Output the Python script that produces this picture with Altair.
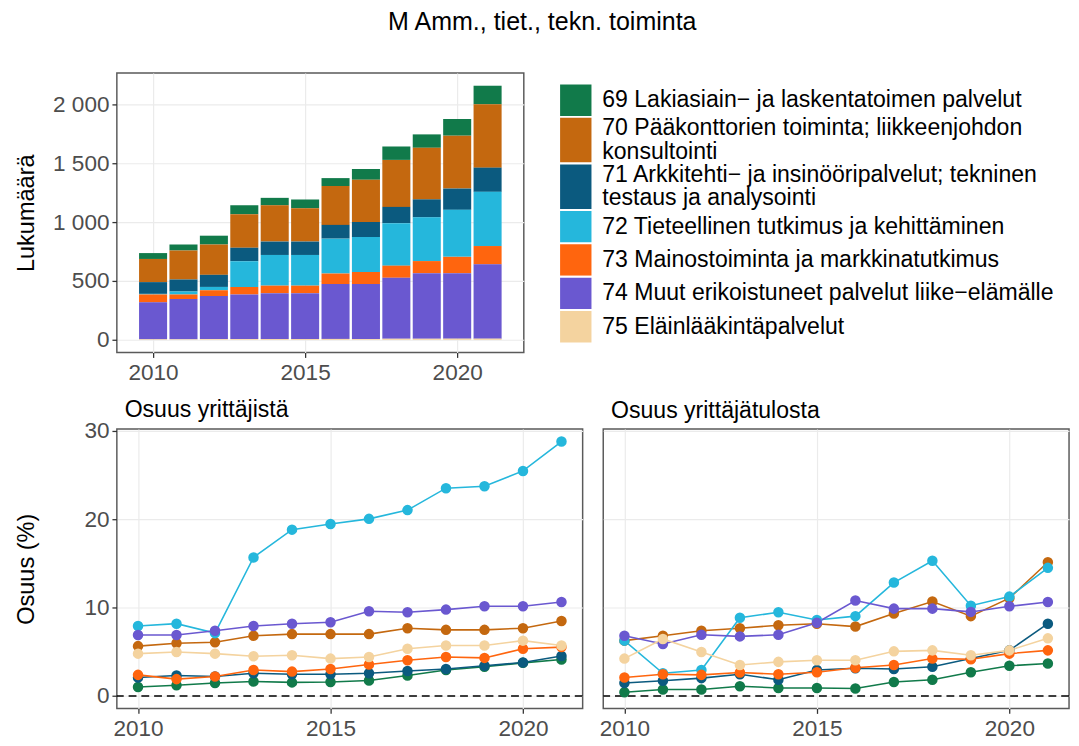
import altair as alt
import pandas as pd

FONT = "Liberation Sans"

years = list(range(2010, 2022))
codes = ["69", "70", "71", "72", "73", "74", "75"]
labels = [
    "69 Lakiasiain\u2212 ja laskentatoimen palvelut",
    "70 Pääkonttorien toiminta; liikkeenjohdon|konsultointi",
    "71 Arkkitehti\u2212 ja insinööripalvelut; tekninen|testaus ja analysointi",
    "72 Tieteellinen tutkimus ja kehittäminen",
    "73 Mainostoiminta ja markkinatutkimus",
    "74 Muut erikoistuneet palvelut liike\u2212elämälle",
    "75 Eläinlääkintäpalvelut",
]
colors = ["#117a4a", "#c4680f", "#0b5a7f", "#25b7dc", "#ff650e", "#6a58d0", "#f4d39f"]

# Lukumäärä (count of entrepreneurs)
count_69 = [50, 50, 75, 75, 64, 75, 67, 92, 114, 114, 142, 158]
count_70 = [197, 247, 258, 286, 308, 283, 331, 358, 400, 439, 450, 539]
count_71 = [100, 103, 103, 114, 114, 114, 117, 128, 139, 153, 181, 206]
count_72 = [5, 25, 28, 219, 261, 261, 297, 297, 361, 372, 400, 461]
count_73 = [67, 39, 50, 64, 64, 64, 89, 103, 103, 103, 139, 156]
count_74 = [314, 342, 366, 380, 390, 390, 467, 467, 519, 558, 557, 632]
count_75 = [5, 5, 6, 6, 7, 7, 8, 8, 9, 9, 10, 10]

# Osuus yrittäjistä (%)
ent_69 = [1.03, 1.22, 1.48, 1.66, 1.55, 1.59, 1.77, 2.32, 2.95, 3.32, 3.76, 4.13]
ent_70 = [5.65, 5.98, 6.09, 6.83, 7.01, 7.01, 7.01, 7.68, 7.49, 7.49, 7.68, 8.49]
ent_71 = [2.10, 2.32, 2.21, 2.58, 2.47, 2.47, 2.58, 2.84, 3.06, 3.43, 3.80, 4.54]
ent_72 = [7.93, 8.19, 7.12, 15.68, 18.82, 19.45, 20.04, 21.03, 23.51, 23.73, 25.46, 28.78]
ent_73 = [2.40, 1.92, 2.21, 2.95, 2.77, 3.06, 3.58, 4.06, 4.43, 4.32, 5.35, 5.54]
ent_74 = [6.90, 6.90, 7.38, 7.93, 8.19, 8.34, 9.59, 9.48, 9.78, 10.15, 10.15, 10.63]
ent_75 = [4.80, 4.98, 4.80, 4.50, 4.61, 4.24, 4.43, 5.35, 5.72, 5.72, 6.27, 5.72]

# Osuus yrittäjätulosta (%)
inc_69 = [0.44, 0.74, 0.74, 1.11, 0.92, 0.92, 0.85, 1.59, 1.85, 2.69, 3.43, 3.69]
inc_70 = [6.27, 6.83, 7.38, 7.68, 8.01, 8.19, 7.86, 9.34, 10.70, 9.04, 11.07, 15.13]
inc_71 = [1.48, 1.73, 2.03, 2.47, 1.85, 2.95, 3.14, 3.06, 3.32, 4.24, 5.17, 8.19]
inc_72 = [6.27, 2.58, 2.95, 8.86, 9.48, 8.60, 9.04, 12.84, 15.31, 10.22, 11.25, 14.50]
inc_73 = [2.10, 2.47, 2.40, 2.66, 2.47, 2.69, 3.21, 3.51, 4.24, 4.17, 4.80, 5.17]
inc_74 = [6.83, 5.90, 6.94, 6.75, 6.94, 8.30, 10.81, 9.89, 9.89, 9.52, 10.15, 10.63]
inc_75 = [4.24, 6.46, 4.98, 3.51, 3.87, 4.06, 4.06, 5.06, 5.17, 4.61, 5.17, 6.53]

counts = [count_69, count_70, count_71, count_72, count_73, count_74, count_75]
ents = [ent_69, ent_70, ent_71, ent_72, ent_73, ent_74, ent_75]
incs = [inc_69, inc_70, inc_71, inc_72, inc_73, inc_74, inc_75]


def long_df(series):
    rows = []
    for code, vals in zip(codes, series):
        for yr, v in zip(years, vals):
            rows.append({"year": yr, "code": code, "value": v})
    return pd.DataFrame(rows)


df_counts = long_df(counts)
df_ent = long_df(ents)
df_inc = long_df(incs)

color_scale = alt.Scale(domain=codes, range=colors)

# ---- Top: stacked bars ----
bars = alt.Chart(df_counts).mark_bar(width=28.6).encode(
    x=alt.X("year:Q",
            scale=alt.Scale(domain=[2008.97, 2022.03], nice=False, zero=False),
            axis=alt.Axis(values=[2010, 2015, 2020], format="d", title=None,
                          labelPadding=5)),
    y=alt.Y("value:Q", stack="zero",
            scale=alt.Scale(domain=[-108, 2270], nice=False, zero=False),
            axis=alt.Axis(values=[0, 500, 1000, 1500, 2000],
                          labelExpr="replace(format(datum.value, ','), ',', ' ')",
                          title="Lukumäärä", minExtent=67, maxExtent=67,
                          titlePadding=13)),
    color=alt.Color("code:N", scale=color_scale, legend=None),
    order=alt.Order("code:N", sort="descending"),
).properties(width=415, height=285)

# ---- Custom legend (keys sized by number of label lines) ----
LINE_H = 23.8
legend_df = pd.DataFrame({"code": codes, "label": labels})
leg_base = alt.Chart(legend_df).transform_calculate(
    nlines="length(split(datum.label, '|'))",
).transform_calculate(
    rowh="20.5 + 13.5 * datum.nlines"
).transform_stack(
    stack="rowh", as_=["y0", "y1"], groupby=[],
    sort=[alt.SortField("code", order="ascending")]
).transform_calculate(ymid="(datum.y0 + datum.y1) / 2")

leg_y = alt.Scale(domain=[-10.7, 274.3], reverse=True, nice=False, zero=False)
leg_keys = leg_base.mark_rect(stroke="white", strokeWidth=2).encode(
    x=alt.value(0), x2=alt.value(34),
    y=alt.Y("y0:Q", scale=leg_y, axis=None), y2="y1:Q",
    color=alt.Color("code:N", scale=color_scale, legend=None),
)
leg_text = leg_base.transform_calculate(
    lines="split(datum.label, '|')"
).transform_flatten(
    ["lines"], as_=["line"]
).transform_window(
    idx="row_number()", groupby=["code"]
).transform_calculate(
    yline=f"datum.ymid + (datum.idx - 1 - (datum.nlines - 1) / 2) * {LINE_H}"
).mark_text(align="left", baseline="middle", fontSize=23.5, font=FONT,
            color="black").encode(
    x=alt.value(44),
    y=alt.Y("yline:Q", scale=leg_y, axis=None),
    text="line:N",
)
legend = alt.layer(leg_keys, leg_text).properties(
    width=505, height=285, view=alt.ViewBackground(strokeOpacity=0))

top = alt.hconcat(bars, legend, spacing=34)

# ---- Bottom: two line panels ----
def panel(df, title, show_y, title_offset):
    yaxis = alt.Axis(values=[0, 10, 20, 30], title="Osuus (%)", minExtent=67,
                     maxExtent=67, titlePadding=13) if show_y else \
        alt.Axis(values=[0, 10, 20, 30], labels=False, ticks=False, title=None)
    yenc = alt.Y("value:Q", scale=alt.Scale(domain=[-1.4, 30.2], nice=False, zero=False),
                 axis=yaxis)
    xenc = alt.X("year:Q", scale=alt.Scale(domain=[2009.45, 2021.55], nice=False, zero=False),
                 axis=alt.Axis(values=[2010, 2015, 2020], format="d", title=None,
                               labelPadding=5))
    zero = alt.Chart(pd.DataFrame({"value": [0]})).mark_rule(
        strokeDash=[8, 5], color="black", strokeWidth=1.5).encode(y=yenc)
    base = alt.Chart(df)
    line = base.mark_line(strokeWidth=1.6).encode(
        x=xenc, y=yenc, color=alt.Color("code:N", scale=color_scale, legend=None))
    pts = base.mark_circle(size=115, opacity=1).encode(
        x=xenc, y=yenc, color=alt.Color("code:N", scale=color_scale, legend=None))
    return alt.layer(zero, line, pts).properties(
        width=475, height=285,
        title=alt.TitleParams(title, anchor="start", frame="group", dx=8,
                              offset=title_offset, fontSize=23.5,
                              fontWeight="normal", font=FONT, color="black"))


bottom = alt.hconcat(panel(df_ent, "Osuus yrittäjistä", True, -1),
                     panel(df_inc, "Osuus yrittäjätulosta", False, 7), spacing=14)

chart = alt.vconcat(top, bottom, spacing=11).properties(
    title=alt.TitleParams("M Amm., tiet., tekn. toiminta", anchor="middle", fontSize=25.5,
                          fontWeight="normal", font=FONT, color="black", offset=38),
    padding={"left": 6, "top": -6, "right": 0, "bottom": 0},
).configure(font=FONT).configure_view(
    stroke="#5a5a5a", strokeWidth=1.5
).configure_axis(
    labelFont=FONT, labelFontSize=23, labelColor="#4d4d4d",
    titleFont=FONT, titleFontSize=24, titleFontWeight="normal", titleColor="black",
    tickColor="#333333", tickSize=5, tickWidth=1.3, labelPadding=3,
    domain=False, gridColor="#ebebeb", gridWidth=1.2,
)

chart.save("out.html", embed_options={"renderer": "svg", "actions": False})
